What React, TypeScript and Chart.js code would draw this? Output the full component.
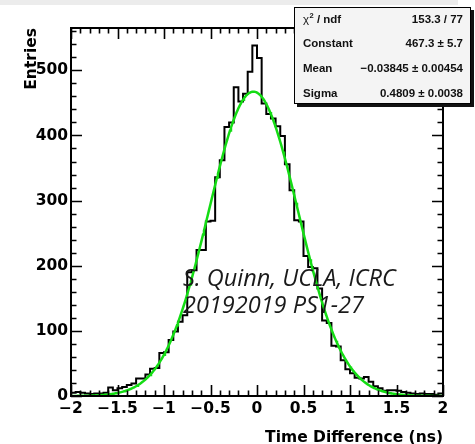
import React, { useEffect, useRef } from 'react';
import { Chart, registerables } from 'chart.js';

Chart.register(...registerables);

// ---- data ----
const X_MIN = -2;
const X_MAX = 2;
const BIN_WIDTH = 0.05;
const Y_MIN = 0;
const Y_MAX = 565;

const COUNTS = [
  5, 6, 5, 4, 3, 4, 4, 5,
  13, 9, 12, 14, 17, 19, 27, 27,
  33, 42, 43, 66, 67, 86, 99, 114,
  124, 190, 193, 224, 224, 268, 269, 336,
  362, 413, 420, 474, 452, 464, 498, 538,
  519, 449, 433, 426, 414, 399, 356, 316,
  270, 268, 215, 198, 196, 165, 116, 112,
  77, 76, 55, 41, 35, 28, 27, 29,
  22, 15, 12, 8, 9, 9, 8, 6,
  5, 4, 3, 4, 3, 3, 2, 4,
];

const X_TICKS = [-2, -1.5, -1, -0.5, 0, 0.5, 1, 1.5, 2];
const Y_TICKS = [0, 100, 200, 300, 400, 500];
const X_MINOR_STEP = 0.1;
const Y_MINOR_STEP = 20;

const FIT_CONSTANT = 467.3;
const FIT_MEAN = -0.03845;
const FIT_SIGMA = 0.4809;
const FIT_STEP = 0.01;

const STATS_LABELS = ['χ', 'Constant', 'Mean', 'Sigma'];
const STATS_VALUES = ['153.3 / 77', '467.3 ± 5.7', '\u22120.03845 ± 0.00454', '0.4809 ± 0.0038'];
const WATERMARK = ['S. Quinn, UCLA, ICRC', '20192019 PS1-27'];

const X_TITLE = 'Time Difference (ns)';
const Y_TITLE = 'Entries';

const AXIS_FONT = { family: '"DejaVu Sans", sans-serif', size: 15.5, weight: 'bold' as const };

function fmt(v: number): string {
  if (v === 0) return '0';
  return v < 0 ? '\u2212' + String(Math.abs(v)) : String(v);
}

const rootPlugin = {
  id: 'rootStyle',
  beforeDraw(chart: any) {
    const { ctx, width, height } = chart;
    ctx.save();
    ctx.fillStyle = '#ffffff';
    ctx.fillRect(0, 0, width, height);
    ctx.fillStyle = '#ececec';
    ctx.fillRect(0, 0, 458, 5);
    ctx.restore();
  },
  afterDatasetsDraw(chart: any) {
    const { ctx, chartArea: a, scales } = chart;
    const xs = scales.x;
    const ys = scales.y;
    ctx.save();
    ctx.strokeStyle = '#000';
    ctx.lineWidth = 1.6;
    const nx = Math.round((X_MAX - X_MIN) / X_MINOR_STEP);
    for (let i = 0; i <= nx; i++) {
      const v = X_MIN + i * X_MINOR_STEP;
      const major = X_TICKS.some((t) => Math.abs(t - v) < 1e-6);
      const len = major ? 11 : 5.5;
      const px = Math.round(xs.getPixelForValue(v)) + 0.5;
      ctx.beginPath();
      ctx.moveTo(px, a.bottom);
      ctx.lineTo(px, a.bottom - len);
      ctx.moveTo(px, a.top);
      ctx.lineTo(px, a.top + len);
      ctx.stroke();
    }
    const ny = Math.floor((Y_MAX - Y_MIN) / Y_MINOR_STEP);
    for (let i = 0; i <= ny; i++) {
      const v = Y_MIN + i * Y_MINOR_STEP;
      const major = Y_TICKS.includes(v);
      const len = major ? 11 : 5.5;
      const py = Math.round(ys.getPixelForValue(v)) + 0.5;
      ctx.beginPath();
      ctx.moveTo(a.left, py);
      ctx.lineTo(a.left + len, py);
      ctx.moveTo(a.right, py);
      ctx.lineTo(a.right - len, py);
      ctx.stroke();
    }
    ctx.lineWidth = 2;
    ctx.strokeRect(a.left, a.top, a.right - a.left, a.bottom - a.top);
    ctx.restore();
  },
  afterDraw(chart: any) {
    const { ctx } = chart;
    ctx.save();
    // watermark
    ctx.fillStyle = '#1a1a1a';
    ctx.font = 'italic 23.5px "Open Sans", sans-serif';
    ctx.textAlign = 'left';
    ctx.textBaseline = 'alphabetic';
    ctx.fillText(WATERMARK[0], 183, 286);
    ctx.fillText(WATERMARK[1], 183, 313);

    // stats box
    const bx = 294, by = 7, bw = 177, bh = 97;
    ctx.fillStyle = '#111';
    ctx.fillRect(bx + 3, by + 3, bw, bh);
    ctx.fillStyle = '#f4f4f4';
    ctx.fillRect(bx, by, bw, bh);
    ctx.strokeStyle = '#000';
    ctx.lineWidth = 1;
    ctx.strokeRect(bx + 0.5, by + 0.5, bw - 1, bh - 1);

    ctx.fillStyle = '#111';
    const font = 'bold 11.5px "Liberation Sans", Arial, sans-serif';
    const small = 'bold 7.5px "Liberation Sans", Arial, sans-serif';
    const lx = 303;
    const rx = 463;
    for (let i = 0; i < STATS_LABELS.length; i++) {
      const yb = 22.7 + i * 24.7;
      ctx.font = font;
      ctx.textAlign = 'left';
      if (i === 0) {
        ctx.font = '11.5px "Liberation Sans", Arial, sans-serif';
        ctx.fillText(STATS_LABELS[0], lx, yb);
        const w = ctx.measureText(STATS_LABELS[0]).width;
        ctx.font = small;
        ctx.fillText('2', lx + w + 0.5, yb - 5);
        const w2 = ctx.measureText('2').width;
        ctx.font = font;
        ctx.fillText(' / ndf', lx + w + w2 + 0.5, yb);
      } else {
        ctx.fillText(STATS_LABELS[i], lx, yb);
      }
      ctx.textAlign = 'right';
      ctx.fillText(STATS_VALUES[i], rx, yb);
    }
    ctx.restore();
  },
};

export default function App() {
  const ref = useRef<HTMLCanvasElement | null>(null);

  useEffect(() => {
    if (!ref.current) return;
    const histPoints = COUNTS.map((c, i) => ({ x: X_MIN + i * BIN_WIDTH, y: c }));
    histPoints.push({ x: X_MIN + COUNTS.length * BIN_WIDTH, y: COUNTS[COUNTS.length - 1] });

    const fitPoints: { x: number; y: number }[] = [];
    const nFit = Math.round((X_MAX - X_MIN) / FIT_STEP);
    for (let i = 0; i <= nFit; i++) {
      const x = X_MIN + i * FIT_STEP;
      const z = (x - FIT_MEAN) / FIT_SIGMA;
      fitPoints.push({ x, y: FIT_CONSTANT * Math.exp(-0.5 * z * z) });
    }

    const chart = new Chart(ref.current, {
      type: 'line',
      data: {
        datasets: [
          {
            label: 'fit',
            data: fitPoints,
            borderColor: '#14dc14',
            borderWidth: 2.5,
            pointRadius: 0,
            fill: false,
            order: 0,
          },
          {
            label: 'hist',
            data: histPoints,
            borderColor: '#000000',
            borderWidth: 2,
            pointRadius: 0,
            stepped: 'before',
            fill: false,
            order: 1,
          },
        ],
      },
      options: {
        animation: false,
        responsive: false,
        devicePixelRatio: 1,
        layout: { padding: { top: 28, right: 32, left: 0, bottom: 0 } },
        plugins: { legend: { display: false }, tooltip: { enabled: false } },
        scales: {
          x: {
            type: 'linear',
            min: X_MIN,
            max: X_MAX,
            grid: { display: false, drawTicks: false },
            border: { display: false },
            afterBuildTicks: (scale: any) => {
              scale.ticks = X_TICKS.map((v) => ({ value: v }));
            },
            afterFit: (scale: any) => {
              scale.height = 48;
            },
            ticks: {
              autoSkip: false,
              maxRotation: 0,
              padding: 4,
              color: '#000',
              font: AXIS_FONT,
              callback: (v: any) => fmt(Number(v)),
            },
            title: {
              display: true,
              text: X_TITLE,
              align: 'end',
              color: '#000',
              font: AXIS_FONT,
              padding: { top: 0, bottom: -3 },
            },
          },
          y: {
            type: 'linear',
            min: Y_MIN,
            max: Y_MAX,
            grid: { display: false, drawTicks: false },
            border: { display: false },
            afterBuildTicks: (scale: any) => {
              scale.ticks = Y_TICKS.map((v) => ({ value: v }));
            },
            afterFit: (scale: any) => {
              scale.width = 71;
            },
            ticks: {
              padding: 3,
              color: '#000',
              font: AXIS_FONT,
              callback: (v: any) => fmt(Number(v)),
            },
            title: {
              display: true,
              text: Y_TITLE,
              align: 'end',
              color: '#000',
              font: AXIS_FONT,
              padding: { top: 23, bottom: 0 },
            },
          },
        },
      },
      plugins: [rootPlugin],
    } as any);
    return () => chart.destroy();
  }, []);

  return (
    <div style={{ position: 'fixed', left: 0, top: 0, width: 475, height: 444, background: '#fff' }}>
      <canvas ref={ref} width={475} height={444} style={{ width: 475, height: 444, display: 'block' }} />
    </div>
  );
}
